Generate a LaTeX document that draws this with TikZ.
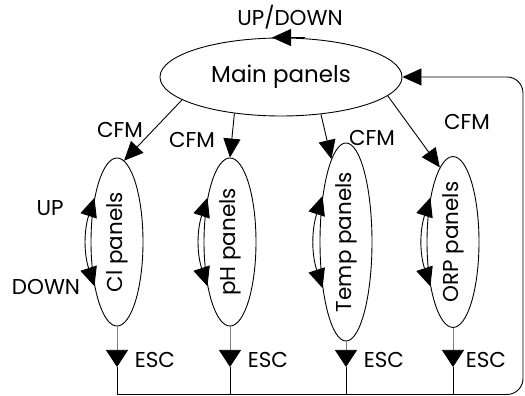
\documentclass[tikz,border=0pt]{standalone}
\usepackage{graphicx}
\usepackage{fontspec}
\setmainfont{Poppins}
\usetikzlibrary{arrows.meta,positioning,shapes.geometric}

\begin{document}
\begin{tikzpicture}[x=1pt,y=1pt,line width=0.9pt,
  >={Triangle[length=19pt,width=17pt]},
  font=\fontsize{21.5}{24}\selectfont,
  menu/.style={draw,ellipse,inner sep=0pt},
  submenu/.style={menu,minimum width=52pt,minimum height=168pt},
  esc/.style={black!50,line width=0.7pt,-{Triangle[length=17pt,width=22pt,color=black]}}]
\useasboundingbox (0,0) rectangle (525,396);

% Menu principal
\node[menu,minimum width=242pt,minimum height=78pt,font=\fontsize{23}{26}\selectfont] (main) at (281,319) {Main panels};
\draw[->] ([xshift=24pt]main.north) -- ([xshift=-9pt]main.north);
\node (updown) at (290,379) {UP/DOWN};

% Sous-menus
\node[submenu] (cl) at (117,154) {\rotatebox{90}{Cl panels}};
\node[submenu] (ph) at (230,154) {\rotatebox{90}{pH panels}};
\node[submenu] (temp) at (346,154) {\rotatebox{90}{Temp panels}};
\node[submenu] (orp) at (453,154) {\rotatebox{90}{ORP panels}};

% CFM
\draw[->] (main.-167) -- (cl.85);
\draw[->] (main.-142) -- (ph.north);
\draw[->] (main.-43) -- (temp.100);
\draw[->] (main.-10) -- (orp.100);
\node (cfmcl) at (120,266) {CFM};
\node (cfmph) at (192,256) {CFM};
\node (cfmtemp) at (372,258) {CFM};
\node (cfmorp) at (467,274) {CFM};

% UP / DOWN dans les sous-menus
\draw[<->] (cl.117) to[bend right=18] (cl.243);
\draw[<->] (ph.117) to[bend right=18] (ph.243);
\draw[<->] (temp.117) to[bend right=18] (temp.243);
\draw[<->] (orp.117) to[bend right=18] (orp.243);
\node (up) at (50,188) {UP};
\node (down) at (46,109) {DOWN};

% ESC vers le menu principal
\coordinate (bus) at (117,1.5);
\coordinate (clesc) at (117,29);
\coordinate (phesc) at (230,29);
\coordinate (tempesc) at (346,29);
\coordinate (orpesc) at (453,29);
\draw[esc] (cl.south) -- (clesc);
\draw[esc] (ph.south) -- (phesc);
\draw[esc] (temp.south) -- (tempesc);
\draw[esc] (orp.south) -- (orpesc);
\draw (clesc) -- (clesc |- bus);
\draw (phesc) -- (phesc |- bus);
\draw (tempesc) -- (tempesc |- bus);
\draw (orpesc) -- (orpesc |- bus);
\node[right=14pt of clesc,yshift=7pt] (esccl) {ESC};
\node[right=14pt of phesc,yshift=7pt] (escph) {ESC};
\node[right=14pt of tempesc,yshift=7pt] (esctemp) {ESC};
\node[right=9pt of orpesc,yshift=7pt] (escorp) {ESC};

\coordinate (corner1) at (523,1.5);
\coordinate (corner2) at (523,319);
\draw[->,rounded corners=16pt] (bus) -- (corner1) -- (corner2) -- (main.east);

\end{tikzpicture}
\end{document}
